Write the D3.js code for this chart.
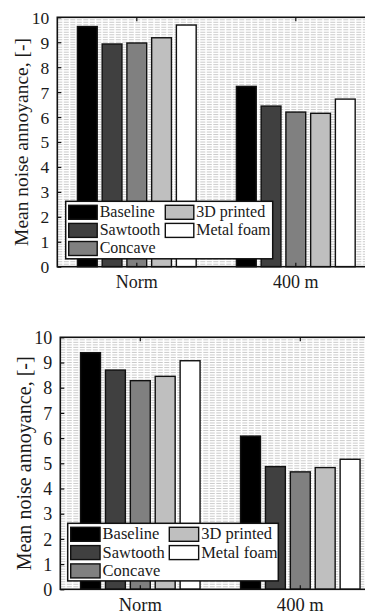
<!DOCTYPE html>
<html><head><meta charset="utf-8">
<script src="https://cdn.jsdelivr.net/npm/d3@7"></script>
<style>
html,body{margin:0;padding:0;background:#fff;}
svg{display:block;}
text{font-family:"Liberation Serif","Times New Roman",serif;fill:#1a1a1a;}
</style></head>
<body>
<svg id="chart" width="365" height="613"></svg>
<script>
// ---- data ----
const categories = ["Norm", "400 m"];
const seriesNames = ["Baseline", "Sawtooth", "Concave", "3D printed", "Metal foam"];
const seriesColors = ["#000000", "#404040", "#808080", "#bfbfbf", "#ffffff"];
const yTicks = [0,1,2,3,4,5,6,7,8,9,10];
const yLabel = "Mean noise annoyance, [-]";
// top panel
const topBaseline  = [9.63, 7.23];
const topSawtooth  = [8.93, 6.44];
const topConcave   = [8.97, 6.20];
const topPrinted   = [9.18, 6.15];
const topMetalFoam = [9.69, 6.72];
// bottom panel
const botBaseline  = [9.39, 6.08];
const botSawtooth  = [8.70, 4.87];
const botConcave   = [8.28, 4.66];
const botPrinted   = [8.45, 4.83];
const botMetalFoam = [9.07, 5.16];

const topValues = [topBaseline, topSawtooth, topConcave, topPrinted, topMetalFoam];
const botValues = [botBaseline, botSawtooth, botConcave, botPrinted, botMetalFoam];

// ---- layout ----
const panels = [
  {values: topValues, left: 57.3, top: 17.3, bottom: 266.7, spacing: 159, scale: 1.0,
   ylabX: 27.5, xlabY: 288, legend: {x: 65.7, y: 201.3, w: 207, h: 57.5, col2: 96.6, row: 18.1}},
  {values: botValues, left: 60.3, top: 337.3, bottom: 589.3, spacing: 160, scale: 1.03,
   ylabX: 30.5, xlabY: 610.5, legend: {x: 67.7, y: 523.3, w: 210.6, h: 57.6, col2: 98.6, row: 18.3}}
];

const svg = d3.select("#chart");

panels.forEach(p => {
  const g = svg.append("g");
  const plotW = 2 * p.spacing;
  const x = d3.scaleBand().domain(categories).range([p.left, p.left + plotW]).padding(0);
  const groupW = 0.778 * p.spacing;
  const xs = d3.scaleBand().domain(seriesNames).range([0, groupW]).paddingInner(0.2).paddingOuter(0.1);
  const y = d3.scaleLinear().domain([0, 10]).range([p.bottom, p.top]);

  const clipId = "clip" + Math.round(p.top);
  svg.append("clipPath").attr("id", clipId).append("rect")
    .attr("x", p.left).attr("y", p.top).attr("width", plotW).attr("height", p.bottom - p.top);

  // minor grid (every 0.1)
  const gridVals = d3.range(1, 100).map(i => i / 10);
  g.append("g").attr("clip-path", `url(#${clipId})`)
    .selectAll("line").data(gridVals).join("line")
    .attr("x1", p.left).attr("x2", p.left + plotW)
    .attr("y1", d => y(d)).attr("y2", d => y(d))
    .attr("stroke", "#bdbdbd").attr("stroke-width", 0.8)
    .attr("stroke-dasharray", "5,1.5");

  // bars
  seriesNames.forEach((s, si) => {
    g.append("g").selectAll("rect").data(p.values[si]).join("rect")
      .attr("x", (d, i) => x(categories[i]) + x.bandwidth() / 2 - groupW / 2 + xs(s))
      .attr("width", xs.bandwidth())
      .attr("y", d => y(d))
      .attr("height", d => y(0) - y(d))
      .attr("fill", seriesColors[si])
      .attr("stroke", "#111").attr("stroke-width", 1.4);
  });

  // left axis with inward ticks
  const yAxis = d3.axisLeft(y).tickValues(yTicks).tickSize(-4).tickPadding(8).tickFormat(d3.format("d"));
  const ya = g.append("g").attr("transform", `translate(${p.left},0)`).call(yAxis);
  ya.select(".domain").remove();
  ya.selectAll(".tick line").attr("stroke", "#111").attr("stroke-width", 1.2);
  ya.selectAll(".tick text").attr("font-size", 17.5 * p.scale)
    .attr("font-family", "Liberation Serif, serif").attr("dy", "0.34em");

  // bottom axis inward ticks
  const xAxis = d3.axisBottom(x).tickSize(-4).tickFormat("");
  const xa = g.append("g").attr("transform", `translate(0,${p.bottom})`).call(xAxis);
  xa.select(".domain").remove();
  xa.selectAll(".tick line").attr("stroke", "#111").attr("stroke-width", 1.2);
  g.append("g").selectAll("text").data(categories).join("text")
    .attr("x", d => x(d) + x.bandwidth() / 2).attr("y", p.xlabY)
    .attr("text-anchor", "middle").attr("font-size", 18 * p.scale).text(d => d);

  // top axis inward ticks
  const xTop = d3.axisTop(x).tickSize(-4).tickFormat("");
  const xt = g.append("g").attr("transform", `translate(0,${p.top})`).call(xTop);
  xt.select(".domain").remove();
  xt.selectAll(".tick line").attr("stroke", "#111").attr("stroke-width", 1.2);

  // frame
  g.append("rect").attr("x", p.left).attr("y", p.top).attr("width", plotW).attr("height", p.bottom - p.top)
    .attr("fill", "none").attr("stroke", "#111").attr("stroke-width", 1.6);

  // y label
  g.append("text")
    .attr("transform", `translate(${p.ylabX},${(p.top + p.bottom) / 2}) rotate(-90)`)
    .attr("text-anchor", "middle").attr("font-size", 19.5 * p.scale).text(yLabel);

  // legend
  const L = p.legend;
  const lg = g.append("g").attr("transform", `translate(${L.x},${L.y})`);
  lg.append("rect").attr("width", L.w).attr("height", L.h)
    .attr("fill", "#fff").attr("stroke", "#111").attr("stroke-width", 1.5);
  const legendPos = [[0,0],[0,1],[0,2],[1,0],[1,1]];
  seriesNames.forEach((s, si) => {
    const [c, r] = legendPos[si];
    const ex = 3 + c * L.col2, ey = 4 + r * L.row;
    lg.append("rect").attr("x", ex).attr("y", ey).attr("width", 28.5 * p.scale).attr("height", 14)
      .attr("fill", seriesColors[si]).attr("stroke", "#111").attr("stroke-width", 1.4);
    lg.append("text").attr("x", ex + 31 * p.scale).attr("y", ey + 12)
      .attr("font-size", 16 * p.scale).text(s);
  });
});
</script>
</body></html>
